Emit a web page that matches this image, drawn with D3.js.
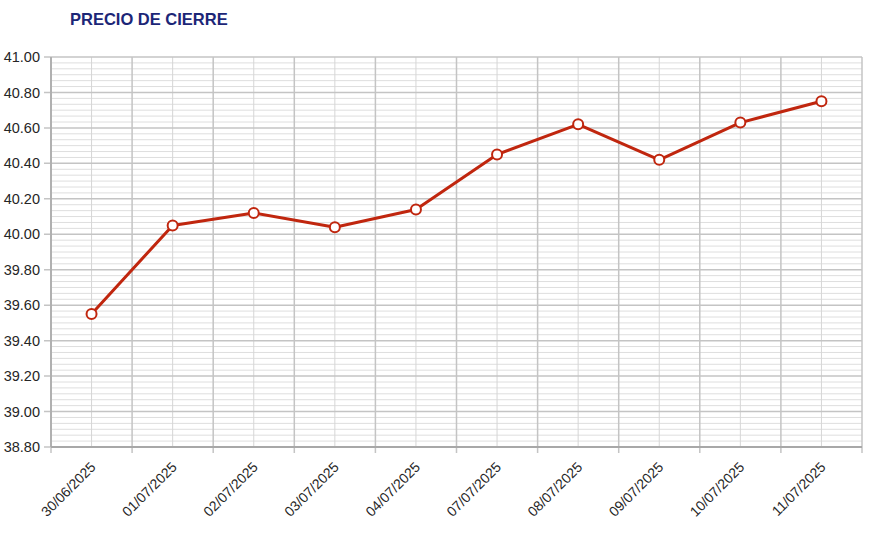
<!DOCTYPE html>
<html>
<head>
<meta charset="utf-8">
<script src="https://cdn.jsdelivr.net/npm/d3@7"></script>
<style>
  body { margin: 0; background: #fff; }
  svg { font-family: "Liberation Sans", Arial, sans-serif; }
</style>
</head>
<body>
<div class="chart"></div>
<script>
var width = 870,
  height = 537,
  margin = { top: 57, right: 8, bottom: 90, left: 51 };

// data
var fechas = ['30/06/2025', '01/07/2025', '02/07/2025', '03/07/2025', '04/07/2025',
  '07/07/2025', '08/07/2025', '09/07/2025', '10/07/2025', '11/07/2025'];
var precios = [39.55, 40.05, 40.12, 40.04, 40.14, 40.45, 40.62, 40.42, 40.63, 40.75];
var yTicks = [38.8, 39.0, 39.2, 39.4, 39.6, 39.8, 40.0, 40.2, 40.4, 40.6, 40.8, 41.0];

var titulo = 'PRECIO DE CIERRE';

var svg = d3.select('.chart')
  .append('svg')
  .attr('width', width)
  .attr('height', height);

var xScale = d3.scaleBand()
  .domain(fechas)
  .range([margin.left, width - margin.right])
  .padding(0);

var yScale = d3.scaleLinear()
  .domain([38.8, 41.0])
  .range([height - margin.bottom, margin.top]);

var cx = function (d) { return xScale(d) + xScale.bandwidth() / 2; };

// minor horizontal grid (6 steps per major)
var minor = d3.range(0, 66).map(function (i) { return 38.8 + i * 0.2 / 6; })
  .filter(function (v, i) { return i % 6 !== 0; });

svg.append('g')
  .selectAll('line')
  .data(minor)
  .enter()
  .append('line')
  .attr('x1', margin.left)
  .attr('x2', width - margin.right)
  .attr('y1', function (d) { return yScale(d); })
  .attr('y2', function (d) { return yScale(d); })
  .attr('stroke', '#dedede')
  .attr('stroke-width', 1);

// vertical grid at category centres
svg.append('g')
  .selectAll('line')
  .data(fechas)
  .enter()
  .append('line')
  .attr('x1', cx)
  .attr('x2', cx)
  .attr('y1', margin.top)
  .attr('y2', height - margin.bottom)
  .attr('stroke', '#d6d6d6')
  .attr('stroke-width', 1);

// vertical grid at category boundaries
var bordes = fechas.map(function (d) { return xScale(d); }).concat([width - margin.right]);
svg.append('g')
  .selectAll('line')
  .data(bordes)
  .enter()
  .append('line')
  .attr('x1', function (d) { return d; })
  .attr('x2', function (d) { return d; })
  .attr('y1', margin.top)
  .attr('y2', height - margin.bottom + 6)
  .attr('stroke', '#c4c4c4')
  .attr('stroke-width', 1.5);

// major horizontal grid
svg.append('g')
  .selectAll('line')
  .data(yTicks)
  .enter()
  .append('line')
  .attr('x1', margin.left - 7)
  .attr('x2', width - margin.right)
  .attr('y1', function (d) { return yScale(d); })
  .attr('y2', function (d) { return yScale(d); })
  .attr('stroke', '#c4c4c4')
  .attr('stroke-width', 1.5);

// axes lines
svg.append('line')
  .attr('x1', margin.left).attr('x2', margin.left)
  .attr('y1', margin.top).attr('y2', height - margin.bottom)
  .attr('stroke', '#b0b0b0').attr('stroke-width', 2);
svg.append('line')
  .attr('x1', margin.left).attr('x2', width - margin.right)
  .attr('y1', height - margin.bottom).attr('y2', height - margin.bottom)
  .attr('stroke', '#a8a8a8').attr('stroke-width', 2);

// y labels
svg.append('g')
  .selectAll('text')
  .data(yTicks)
  .enter()
  .append('text')
  .attr('x', margin.left - 11)
  .attr('y', function (d) { return yScale(d); })
  .attr('dy', '0.35em')
  .attr('text-anchor', 'end')
  .attr('font-size', 14.5)
  .attr('fill', '#262626')
  .text(function (d) { return d3.format('.2f')(d); });

// x labels
svg.append('g')
  .selectAll('text')
  .data(fechas)
  .enter()
  .append('text')
  .attr('transform', function (d) {
    return 'translate(' + (cx(d) + 5) + ',' + (height - margin.bottom + 21) + ') rotate(-45)';
  })
  .attr('text-anchor', 'end')
  .attr('font-size', 14)
  .attr('fill', '#262626')
  .text(function (d) { return d; });

// line
var line = d3.line()
  .x(function (d, i) { return cx(fechas[i]); })
  .y(function (d) { return yScale(d); });

svg.append('path')
  .datum(precios)
  .attr('d', line)
  .attr('fill', 'none')
  .attr('stroke', '#c0260e')
  .attr('stroke-width', 3)
  .attr('stroke-linejoin', 'round');

svg.append('g')
  .selectAll('circle')
  .data(precios)
  .enter()
  .append('circle')
  .attr('cx', function (d, i) { return cx(fechas[i]); })
  .attr('cy', function (d) { return yScale(d); })
  .attr('r', 5)
  .attr('fill', '#fff')
  .attr('stroke', '#c0260e')
  .attr('stroke-width', 2);

// title
svg.append('text')
  .attr('x', 70)
  .attr('y', 25)
  .attr('font-size', 16.5)
  .attr('font-weight', 'bold')
  .attr('fill', '#1c2677')
  .text(titulo);
</script>
</body>
</html>
